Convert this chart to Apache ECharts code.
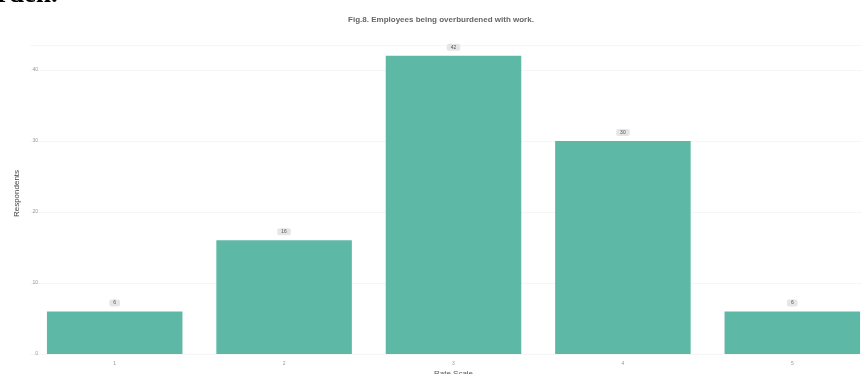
<!DOCTYPE html>
<html>
<head>
<meta charset="utf-8">
<script src="https://cdn.jsdelivr.net/npm/echarts@6/dist/echarts.min.js"></script>
<style>
  html, body { margin: 0; padding: 0; background: #ffffff; }
  #chart { width: 862px; height: 374px; }
</style>
</head>
<body>
<div id="chart"></div>
<script>
// Rating categories and number of respondents per rating
const categories = ['1', '2', '3', '4', '5'];
const respondents = [6, 16, 42, 30, 6];
const yTicks = [0, 10, 20, 30, 40];

const chart = echarts.init(document.getElementById('chart'), null, { renderer: 'canvas' });

chart.setOption({
  backgroundColor: '#ffffff',
  animation: false,
  title: {
    text: 'Fig.8. Employees being overburdened with work.',
    left: 436,
    textAlign: 'center',
    top: 11,
    textStyle: {
      fontFamily: 'Liberation Sans, Arial, sans-serif',
      fontSize: 8,
      fontWeight: 'bold',
      color: '#666666'
    }
  },
  graphic: [
    {
      type: 'text',
      x: -3,
      y: 9,
      z: 100,
      style: {
        text: 'rden.',
        font: 'bold 27px "Liberation Serif", "DejaVu Serif", serif',
        fill: '#000000',
        verticalAlign: 'bottom',
        align: 'left'
      }
    }
  ],
  grid: {
    left: 30,
    top: 45,
    width: 847,
    height: 309,
    containLabel: false,
    outerBoundsMode: 'none'
  },
  xAxis: {
    type: 'category',
    data: categories,
    name: 'Rate Scale',
    nameLocation: 'middle',
    nameGap: 16,
    nameMoveOverlap: false,
    nameTextStyle: { fontSize: 8, color: '#555555', fontFamily: 'Liberation Sans, Arial, sans-serif' },
    axisLine: { show: false },
    axisTick: { show: false },
    axisLabel: { fontSize: 5, color: '#999999', margin: 7 },
    splitLine: { show: false }
  },
  yAxis: {
    type: 'value',
    min: 0,
    max: 43.5,
    interval: 10,
    name: 'Respondents',
    nameLocation: 'middle',
    nameGap: 9,
    nameRotate: 90,
    nameMoveOverlap: false,
    nameTextStyle: {
      fontSize: 8,
      color: '#444444',
      fontFamily: 'Liberation Sans, Arial, sans-serif',
      padding: [0, 0, 0, 12]
    },
    axisLine: { show: false },
    axisTick: { show: false },
    axisLabel: {
      fontSize: 5,
      color: '#999999',
      margin: -8,
      showMaxLabel: false,
      formatter: function (v) { return yTicks.indexOf(v) >= 0 ? String(v) : ''; }
    },
    splitLine: { show: true, lineStyle: { color: '#f6f6f6', width: 1 } }
  },
  series: [
    {
      type: 'bar',
      data: respondents,
      barWidth: '80%',
      itemStyle: { color: '#5eb8a6' },
      label: {
        show: true,
        position: 'top',
        distance: 5,
        fontSize: 5,
        color: '#555555',
        backgroundColor: '#e6e6e6',
        borderRadius: 2,
        padding: [1, 4, 1, 4]
      }
    }
  ]
});
</script>
</body>
</html>
